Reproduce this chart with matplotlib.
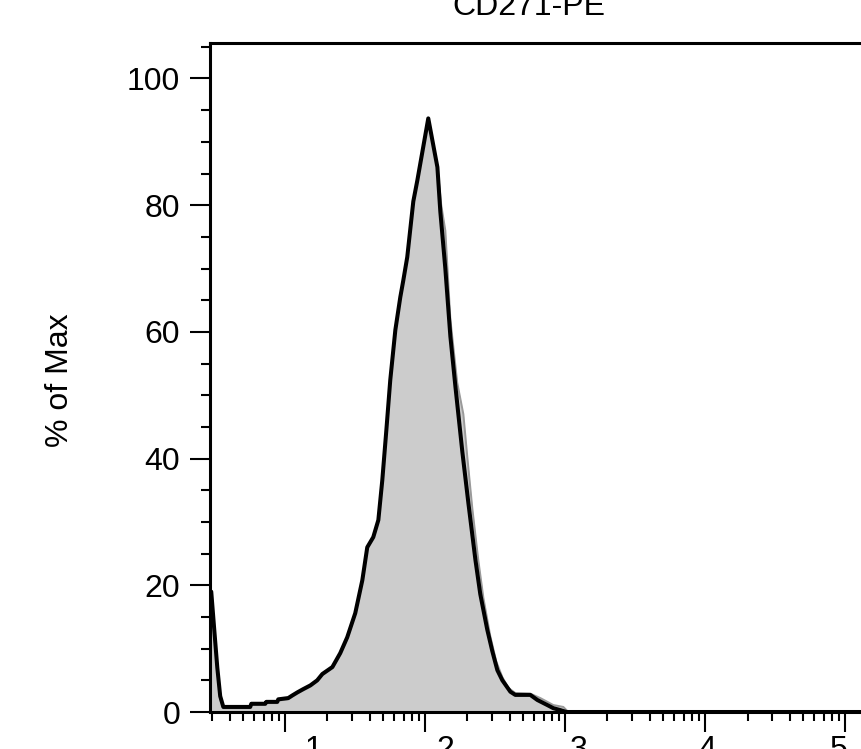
import numpy as np
import matplotlib
matplotlib.use('Agg')
import matplotlib.pyplot as plt
from matplotlib.ticker import LogLocator, MultipleLocator, FixedLocator, NullFormatter
import matplotlib.transforms as mtransforms

plt.rcParams['font.family'] = ['Liberation Sans', 'DejaVu Sans']

# CD271-PE intensity (log axis) and % of max
black_x = [2.96, 3.11, 3.27, 3.43, 3.61, 5.62, 5.72, 7.20, 7.32, 8.77, 8.91, 10.5, 11.2,
           12.2, 13.4, 15.1, 16.9, 18.4, 21.7, 24.7, 27.7, 31.6, 35.5, 38.5, 42.5, 46.2,
           49.3, 52.7, 56.2, 61.1, 66.3, 69.6, 74.3, 82.1, 87.7, 105, 122, 128, 139, 151, 164,
           184, 203, 228, 247, 277, 301, 327, 355, 405, 439, 562, 631, 743, 821, 921,
           1017, 262144]
black_y = [19.0, 13.0, 7.0, 2.5, 0.8, 0.8, 1.3, 1.3, 1.6, 1.6, 2.0, 2.2, 2.6,
           3.1, 3.6, 4.2, 5.0, 6.0, 7.1, 9.3, 11.8, 15.6, 20.8, 26.0, 27.6, 30.3,
           36.6, 44.5, 52.4, 60.3, 65.5, 68.1, 71.8, 80.6, 83.9, 93.7, 86.0, 79.0, 70.0, 59.3, 51.4,
           41.0, 33.0, 24.0, 18.6, 13.0, 9.6, 6.6, 5.0, 3.2, 2.7, 2.7, 1.9, 1.1, 0.6, 0.3,
           0.0, 0.0]

gray_x = [2.96, 3.11, 3.27, 3.43, 3.61, 5.62, 5.72, 7.20, 7.32, 8.77, 8.91, 10.5, 11.2,
          12.2, 13.4, 15.1, 16.9, 18.4, 21.7, 24.7, 27.7, 31.6, 35.5, 38.5, 42.5, 46.2,
          49.3, 52.7, 56.2, 61.1, 66.3, 69.6, 74.3, 82.1, 87.7, 105, 122, 130, 139, 151, 169,
          187, 200, 217, 239, 260, 291, 321, 355, 392, 439, 562, 663, 821, 967, 1051,
          262144]
gray_y = [18.5, 12.5, 6.5, 2.0, 0.6, 0.6, 1.1, 1.1, 1.4, 1.4, 1.8, 2.0, 2.4,
          2.9, 3.4, 4.0, 4.8, 5.8, 6.9, 9.1, 11.6, 15.4, 20.6, 25.8, 27.4, 30.1,
          36.4, 44.3, 52.2, 60.1, 65.3, 67.9, 71.6, 80.4, 83.7, 93.5, 86.0, 80.0, 76.0, 62.0, 52.0,
          47.0, 40.0, 32.0, 24.0, 18.0, 12.0, 8.0, 5.5, 3.8, 3.0, 2.9, 2.2, 1.1, 0.8, 0.0,
          0.0]

xtick_vals = [10, 100, 1000, 10000, 100000]
xtick_labels = ['1', '2', '3', '4', '5']
ytick_vals = [0, 20, 40, 60, 80, 100]

W, H = 862, 749
fig = plt.figure(figsize=(W / 100, H / 100), dpi=100)
ax = fig.add_axes([210 / W, (H - 712) / H, (904 - 210) / W, (712 - 43) / H])

ax.fill_between(gray_x, gray_y, 0, color='#cccccc', lw=0, zorder=1)
ax.plot(gray_x, gray_y, color='#9a9a9a', lw=1.4, zorder=2)
ax.plot(black_x, black_y, color='black', lw=2.9, zorder=3,
        solid_joinstyle='round', solid_capstyle='round')

ax.set_xscale('log')
ax.set_xlim(2.9, 262144)
ax.set_ylim(0, 105.6)

ax.xaxis.set_major_locator(FixedLocator(xtick_vals))
ax.set_xticklabels(xtick_labels)
ax.xaxis.set_minor_locator(LogLocator(base=10, subs=np.arange(2, 10), numticks=20))
ax.xaxis.set_minor_formatter(NullFormatter())
ax.set_yticks(ytick_vals)
ax.yaxis.set_minor_locator(MultipleLocator(5))

for s in ax.spines.values():
    s.set_linewidth(2.2)
ax.spines['right'].set_visible(False)

ax.tick_params(which='major', direction='out', length=14.4, width=1.5,
               labelsize=23, colors='black')
ax.tick_params(axis='y', which='major', pad=7)
ax.tick_params(axis='x', which='major', pad=2)
ax.tick_params(which='minor', direction='out', length=6.3, width=1.5)

# labels sit a bit right of their ticks, less so further right
label_shift_px = [28, 20, 13, 2, -7]
for lab, dx in zip(ax.get_xticklabels(), label_shift_px):
    off = mtransforms.ScaledTranslation(dx / 100, 0, fig.dpi_scale_trans)
    lab.set_transform(lab.get_transform() + off)

fig.text(529 / W, 1 - 15 / H, 'CD271-PE', ha='center', va='baseline', fontsize=23)
fig.text(60 / W, 1 - 380 / H, '% of Max', rotation=90, ha='center', va='center', fontsize=23)

fig.savefig('out.png', dpi=100)
